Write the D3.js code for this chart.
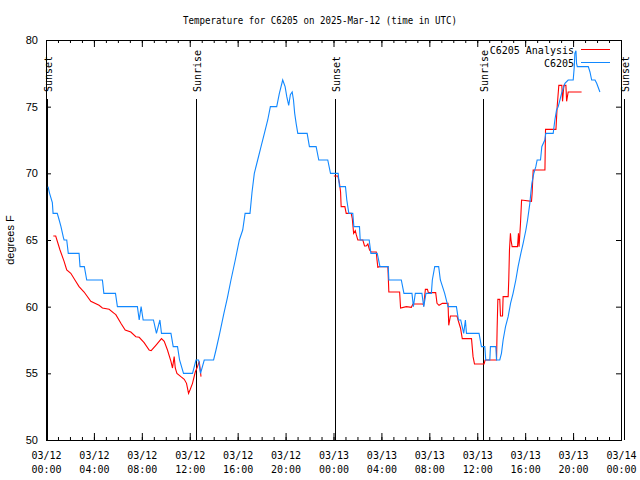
<!DOCTYPE html>
<html><head><meta charset="utf-8">
<script src="https://cdn.jsdelivr.net/npm/d3@7"></script>
<style>body{margin:0;background:#fff}</style>
</head><body>
<svg id="c" width="640" height="480"></svg>
<script>
const titleText = "Temperature for C6205 on 2025-Mar-12 (time in UTC)";
const yLabelText = "degrees F";
const seriesNames = ["C6205 Analysis", "C6205"];

// observations (hours after 2025-03-12 00:00 UTC, degrees F)
const obsHours = [0.17,0.30,0.53,0.59,0.94,1.10,1.25,1.45,1.51,1.73,1.86,2.76,2.84,3.20,3.40,4.71,4.83,5.80,5.96,7.63,7.78,7.94,8.11,8.97,9.22,9.51,9.64,10.43,10.62,10.98,11.15,11.48,12.23,12.52,12.74,12.90,13.21,13.99,14.19,14.50,14.85,15.15,15.44,15.80,16.14,16.42,16.62,17.03,17.20,17.39,17.67,17.95,18.23,18.51,18.73,19.26,19.48,19.76,19.96,20.10,20.26,20.40,20.55,20.66,20.76,20.88,21.02,21.80,21.99,22.55,22.77,23.52,23.75,24.39,24.50,25.00,25.11,25.28,25.61,25.70,26.17,26.23,26.98,27.12,27.65,27.88,28.57,28.62,29.66,29.88,30.55,30.67,30.83,31.38,31.53,31.72,32.17,32.25,32.45,32.78,32.92,33.28,33.56,34.26,34.43,34.62,34.87,35.01,35.10,36.15,36.35,36.63,36.71,37.05,37.10,37.55,37.61,37.88,38.02,38.16,38.36,38.58,38.78,38.99,39.22,39.41,39.64,39.83,40.06,40.20,40.39,40.47,40.56,40.72,40.89,41.00,41.28,41.39,41.64,41.72,42.34,42.48,42.62,42.76,42.90,43.04,43.32,43.59,44.01,44.10,44.15,44.24,44.29,44.35,45.27,45.41,45.55,45.83,45.97,46.24];
const obsTemps = [69,68.5,67.8,67,67,66.5,66,65.2,65,65,64,64,63,63,62,62,61,61,60,60,59,60,59,59,58,59,58,58,57,57,56,55,55,56,56,55,56,56,56.75,58,59.5,60.7,62,63.5,65,65.75,67,67,68.6,70,71,72,73,74,75,75,76,77,76.5,75.75,75.1,75.9,76.1,75.5,74.5,73.75,73,73,72,72,71,71,70,70,69,69,68,67,67,66,66,65,65,64,64,63,63,62,62,61,61,60,61,61,60,61,61,62,63,63,62,61,60,60,59,59,58,59,58,58,57,57,56,56,57,57,56,56,56.5,57.5,58.5,59.25,60.25,61,62,63,64,64.75,65.75,66.5,67.75,68.5,69.25,70,70.5,71,71,72,72.5,73,73,74,74.75,75,75.5,76,76.75,77,77,78,79,79.2,78.25,78,78,77.6,77,77,76.75,76.1];

// analysis (null = gap)
const anaHours = [0.61,0.81,1.17,1.51,1.73,2.07,2.48,2.76,3.18,3.74,4.43,4.71,5.27,5.69,5.83,6.25,6.61,7.08,7.50,7.78,8.19,8.61,8.78,9.17,9.64,9.87,10.14,10.43,10.56,10.70,10.79,10.93,11.26,11.54,11.73,11.90,12.02,12.23,12.46,12.65,12.79,12.94,18.0,24.03,24.36,24.50,24.59,24.64,24.95,25.06,25.48,25.57,25.68,25.82,25.90,26.03,26.45,26.59,26.73,26.87,27.01,27.15,27.57,27.62,27.70,27.85,28.54,28.62,29.52,29.60,30.08,30.50,30.63,31.47,31.53,31.67,31.84,31.92,32.53,32.64,32.81,33.09,33.56,33.62,33.76,34.31,34.40,34.60,34.75,35.52,35.65,35.77,36.57,36.66,37.61,37.66,37.72,37.88,37.94,38.11,38.16,38.58,38.63,38.69,38.77,38.82,38.91,39.36,39.44,39.49,39.61,39.70,40.53,40.58,40.67,41.65,41.70,42.57,42.67,42.81,43.06,43.12,43.23,43.40,43.46,43.59,44.71];
const anaTemps = [65.3,65.3,64.25,63.4,62.75,62.5,61.9,61.5,61.1,60.4,60.1,59.9,59.8,59.5,59.4,58.75,58.25,58.1,57.75,57.7,57.3,56.75,56.7,57.1,57.6,57.4,56.75,55.9,55.4,56.25,55.4,55.0,54.75,54.55,54.25,53.5,53.75,54.25,55.1,55.5,55.9,54.75,null,69.8,69.8,69.25,68.6,67.5,67.5,67,67,66.6,65.5,65.7,65.4,65,65,64.55,64.55,64.7,64.25,64.1,64.1,63.6,62.95,63,63,61.1,61.1,59.9,60,59.95,60.2,60.2,60.1,61.3,61.3,61.05,61.05,60.25,60.1,60.25,60.25,58.6,59.3,59.3,59,58.4,57.6,57.6,56.25,55.7,55.7,56,56,58.4,60.55,60.55,59.3,59.3,60.75,60.75,62,64.25,65.5,65,64.5,64.5,65.5,64.5,66.25,68,67.9,68.5,70.25,70.25,73.3,73.3,75,76.6,76.6,75.4,76.6,76.6,75.4,76.1,76.1];

const sunHours = [0.11, 12.52, 24.16, 36.48, 48.24];
const sunLabels = ["Sunset", "Sunrise", "Sunset", "Sunrise", "Sunset"];

const xTickHours = [0,4,8,12,16,20,24,28,32,36,40,44,48];
const xTickDates = ["03/12","03/12","03/12","03/12","03/12","03/12","03/13","03/13","03/13","03/13","03/13","03/13","03/14"];
const xTickTimes = ["00:00","04:00","08:00","12:00","16:00","20:00","00:00","04:00","08:00","12:00","16:00","20:00","00:00"];
const yTicks = [50,55,60,65,70,75,80];

const RED = "#ff0000", BLUE = "#1188ff";
const MONO = "'DejaVu Sans Mono', 'Liberation Mono', monospace";
const SANS = "'Liberation Sans', Arial, sans-serif";

const L = 46, R = 621, T = 40, B = 440;
const base = Date.UTC(2025, 2, 12);
const toDate = h => new Date(base + h * 3600e3);
const x = d3.scaleUtc().domain([toDate(0), toDate(48)]).range([L, R]);
const y = d3.scaleLinear().domain([50, 80]).range([B, T]);

const svg = d3.select("#c");
svg.append("rect").attr("width", 640).attr("height", 480).attr("fill", "#fff");

// title
svg.append("text").attr("x", 320).attr("y", 24).attr("text-anchor", "middle")
  .attr("font-family", MONO).attr("font-size", 10)
  .attr("textLength", 274).attr("lengthAdjust", "spacingAndGlyphs")
  .text(titleText);

// axes
function styleAxis(g) {
  g.select(".domain").remove();
  g.selectAll(".tick line").attr("stroke", "#000");
}
const hourDates = d3.range(0, 49).map(toDate);
const majorDates = xTickHours.map(toDate);
svg.append("g").attr("transform", `translate(0,${B})`)
  .call(d3.axisBottom(x).tickValues(hourDates).tickSize(-3).tickFormat("")).call(styleAxis);
svg.append("g").attr("transform", `translate(0,${B})`)
  .call(d3.axisBottom(x).tickValues(majorDates).tickSize(-7).tickFormat("")).call(styleAxis);
svg.append("g").attr("transform", `translate(0,${T})`)
  .call(d3.axisTop(x).tickValues(hourDates).tickSize(-3).tickFormat("")).call(styleAxis);
svg.append("g").attr("transform", `translate(0,${T})`)
  .call(d3.axisTop(x).tickValues(majorDates).tickSize(-7).tickFormat("")).call(styleAxis);

const yAx = svg.append("g").attr("transform", `translate(${L},0)`)
  .call(d3.axisLeft(y).tickValues(yTicks).tickSize(-5).tickPadding(8));
yAx.call(styleAxis);
yAx.selectAll("text").attr("font-family", SANS).attr("font-size", 11).attr("fill", "#000");
svg.append("g").attr("transform", `translate(${R},0)`)
  .call(d3.axisRight(y).tickValues(yTicks).tickSize(-5).tickFormat("")).call(styleAxis);

// frame
svg.append("rect").attr("x", L + 0.5).attr("y", T + 0.5).attr("width", R - L).attr("height", B - T)
  .attr("fill", "none").attr("stroke", "#000").attr("stroke-width", 1);

// x tick labels (two lines)
const xl = svg.append("g").attr("font-family", MONO).attr("font-size", 10).attr("fill", "#000");
xTickHours.forEach((h, i) => {
  const t = xl.append("text").attr("text-anchor", "middle").attr("x", x(toDate(h)) + 0.5);
  t.append("tspan").attr("x", x(toDate(h)) + 0.5).attr("y", 459).text(xTickDates[i]);
  t.append("tspan").attr("x", x(toDate(h)) + 0.5).attr("y", 473).text(xTickTimes[i]);
});

// y label
svg.append("text").attr("transform", "translate(14,240) rotate(-90)").attr("text-anchor", "middle")
  .attr("font-family", SANS).attr("font-size", 11).text(yLabelText);

// sunrise / sunset markers
sunHours.forEach((h, i) => {
  const px = Math.round(x(toDate(h))) + 0.5;
  svg.append("line").attr("x1", px).attr("x2", px).attr("y1", 99).attr("y2", B)
    .attr("stroke", "#000").attr("stroke-width", 1);
  svg.append("text").attr("transform", `translate(${px + 4.5},92) rotate(-90)`)
    .attr("font-family", MONO).attr("font-size", 10).text(sunLabels[i]);
});

// series
const anaData = anaHours.map((h, i) => [h, anaTemps[i]]);
const obsData = obsHours.map((h, i) => [h, obsTemps[i]]);
const line = d3.line().defined(d => d[1] != null).x(d => x(toDate(d[0]))).y(d => y(d[1]));
svg.append("path").datum(anaData).attr("d", line).attr("fill", "none")
  .attr("stroke", RED).attr("stroke-width", 1.1);
svg.append("path").datum(obsData).attr("d", line).attr("fill", "none")
  .attr("stroke", BLUE).attr("stroke-width", 1.1);

// legend
const legY = [49.5, 62.5];
const legColors = [RED, BLUE];
seriesNames.forEach((n, i) => {
  svg.append("text").attr("x", 574).attr("y", legY[i] + 4).attr("text-anchor", "end")
    .attr("font-family", MONO).attr("font-size", 10).text(n);
  svg.append("line").attr("x1", 581).attr("x2", 610).attr("y1", legY[i]).attr("y2", legY[i])
    .attr("stroke", legColors[i]).attr("stroke-width", 1);
});
</script>
</body></html>
